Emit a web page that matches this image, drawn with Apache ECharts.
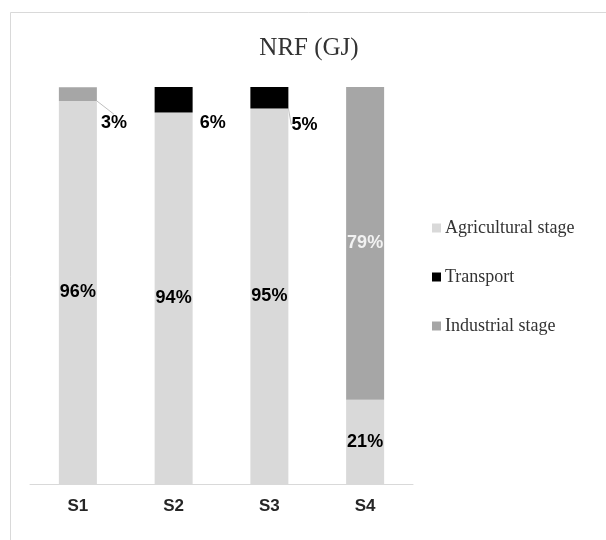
<!DOCTYPE html>
<html>
<head>
<meta charset="utf-8">
<script src="https://cdn.jsdelivr.net/npm/echarts@6/dist/echarts.min.js"></script>
<style>
  html, body { margin: 0; padding: 0; background: #fff; }
  #chart { width: 606px; height: 540px; }
</style>
</head>
<body>
<div id="chart"></div>
<script>
// NRF (GJ) share by scenario, percent of total
const scenarios = ['S1', 'S2', 'S3', 'S4'];
const agricultural = [96.48, 93.6, 94.6, 21.2];
const transport = [0, 6.4, 5.4, 0];
const industrial = [3.48, 0, 0, 78.8];

const seriesNames = ['Agricultural stage', 'Transport', 'Industrial stage'];
const colors = ['#d9d9d9', '#000000', '#a6a6a6'];

// labels for thin segments are moved beside the bar
const outsideLabels = {
  'Transport': { 1: { dx: 7, dy: 36, line: false }, 2: { dx: 3, dy: 38, line: true } },
  'Industrial stage': { 0: { dx: 4, dy: 36, line: true } }
};

const pct = v => (v >= 1 ? Math.round(v) + '%' : '');

function makeSeries(name, values, color, labelColor) {
  const moved = outsideLabels[name] || {};
  return {
    name: name,
    type: 'bar',
    stack: 'total',
    barWidth: 38,
    itemStyle: { color: color },
    data: values.map((v, i) => {
      const item = { value: v };
      if (moved[i]) {
        item.label = { color: '#000' };
        item.labelLine = { show: moved[i].line };
      }
      return item;
    }),
    label: {
      show: true,
      position: 'inside',
      formatter: p => pct(p.value),
      fontFamily: 'Liberation Sans, Arial, sans-serif',
      fontWeight: 'bold',
      fontSize: 18,
      color: labelColor
    },
    labelLine: {
      show: true,
      lineStyle: { color: '#bfbfbf', width: 1 }
    },
    labelLayout: function (params) {
      const m = moved[params.dataIndex];
      if (!m) return {};
      return {
        x: params.rect.x + params.rect.width + m.dx,
        y: params.rect.y + m.dy,
        align: 'left',
        verticalAlign: 'middle'
      };
    }
  };
}

const chart = echarts.init(document.getElementById('chart'));
chart.setOption({
  backgroundColor: '#fff',
  animation: false,
  title: {
    text: 'NRF (GJ)',
    left: 304,
    top: 31,
    textAlign: 'center',
    textStyle: {
      fontFamily: 'Liberation Serif, Times New Roman, serif',
      fontWeight: 'normal',
      fontSize: 25,
      color: '#333333'
    }
  },
  legend: {
    orient: 'vertical',
    left: 427,
    top: 214,
    itemWidth: 9,
    itemHeight: 9,
    itemGap: 31,
    icon: 'rect',
    data: seriesNames,
    textStyle: {
      fontFamily: 'Liberation Serif, Times New Roman, serif',
      fontSize: 18,
      color: '#333333',
      padding: [0, 0, 0, -1]
    }
  },
  grid: { left: 30, right: 193, top: 87, bottom: 56 },
  xAxis: {
    type: 'category',
    data: scenarios,
    axisLine: { lineStyle: { color: '#d9d9d9', width: 1 } },
    axisTick: { show: false },
    axisLabel: {
      margin: 14,
      fontFamily: 'Liberation Sans, Arial, sans-serif',
      fontWeight: 'bold',
      fontSize: 17,
      color: '#262626'
    }
  },
  yAxis: {
    type: 'value',
    min: 0,
    max: 100,
    show: false
  },
  graphic: [{
    type: 'rect',
    shape: { x: 10.5, y: 12.5, width: 700, height: 700 },
    style: { fill: 'none', stroke: '#d9d9d9', lineWidth: 1 },
    silent: true
  }],
  series: [
    makeSeries(seriesNames[0], agricultural, colors[0], '#000'),
    makeSeries(seriesNames[1], transport, colors[1], '#fff'),
    makeSeries(seriesNames[2], industrial, colors[2], '#f2f2f2')
  ]
});
</script>
</body>
</html>
